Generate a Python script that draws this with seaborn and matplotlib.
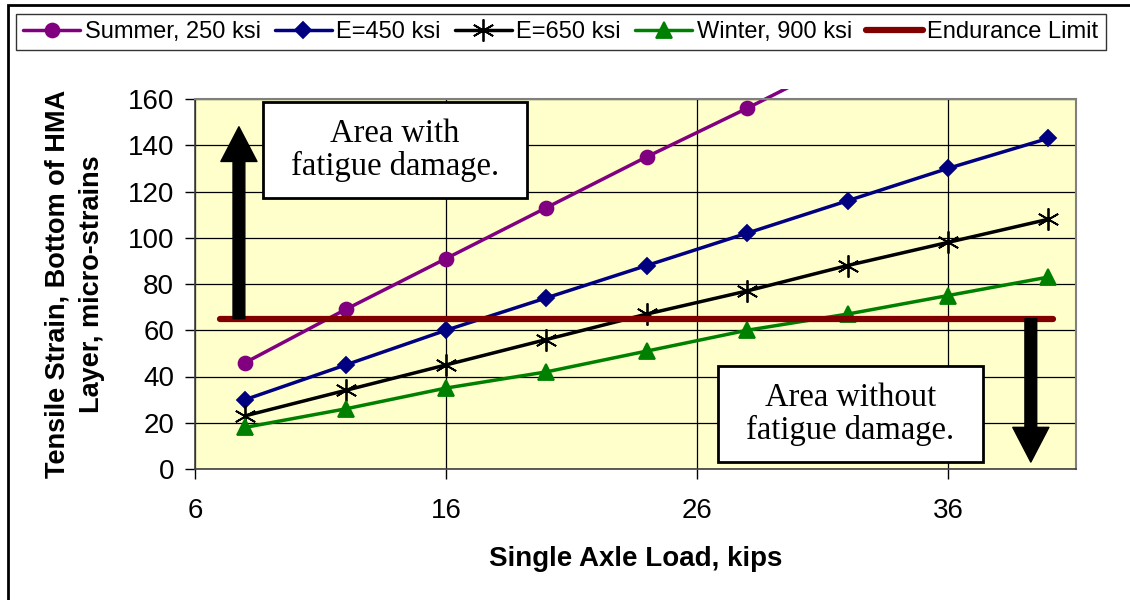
import numpy as np
import pandas as pd
import matplotlib
matplotlib.use("Agg")
import matplotlib.pyplot as plt
import seaborn as sns
from matplotlib.patches import Rectangle

# data
axle_load = [8, 12, 16, 20, 24, 28, 32, 36, 40]
summer_250 = [46, 69, 91, 113, 135, 156, 178, 200, 221]
e_450 = [30, 45, 60, 74, 88, 102, 116, 130, 143]
e_650 = [23, 34, 45, 56, 67, 77, 88, 98, 108]
winter_900 = [18, 26, 35, 42, 51, 60, 67, 75, 83]
endurance_x = [7, 40.2]
endurance_y = [65, 65]

x_ticks = [6, 16, 26, 36]
y_ticks = [0, 20, 40, 60, 80, 100, 120, 140, 160]

sns.set_theme(style="white")
plt.rcParams['font.family'] = ['Liberation Sans', 'DejaVu Sans']
plt.rcParams['text.color'] = 'black'
plt.rcParams['axes.labelcolor'] = 'black'
plt.rcParams['xtick.color'] = 'black'
plt.rcParams['ytick.color'] = 'black'

fig = plt.figure(figsize=(11.3, 6), dpi=100)
ax = fig.add_axes([195 / 1130, 1 - 469 / 600, (1076 - 195) / 1130, (469 - 99) / 600])
ax.set_facecolor('#FFFFCC')

series = [
    ("Summer, 250 ksi", summer_250, '#800080', 'o', 10),
    ("E=450 ksi", e_450, '#000080', 'D', 8.5),
    ("E=650 ksi", e_650, 'black', (6, 2, 0), 16),
    ("Winter, 900 ksi", winter_900, '#008000', '^', 11),
]
for name, vals, col, mk, ms in series:
    df = pd.DataFrame({'load': axle_load, 'strain': vals})
    sns.lineplot(data=df, x='load', y='strain', ax=ax, color=col, marker=mk,
                 markersize=ms, markeredgecolor=col, markeredgewidth=1.3,
                 linewidth=2.5, label=name, legend=False)

# summer line runs a little above the plot top in the original
clip = Rectangle((6, -5), 36, 169.5, transform=ax.transData, fill=False, visible=False)
ax.add_patch(clip)
ax.lines[0].set_clip_path(clip)

sns.lineplot(x=endurance_x, y=endurance_y, ax=ax, color='#800000', linewidth=4.5,
             label="Endurance Limit", legend=False, solid_capstyle='round')

ax.set_xlim(6, 41.1)
ax.set_ylim(0, 160)
ax.set_xticks(x_ticks)
ax.set_yticks(y_ticks)
ax.grid(True, color='black', linewidth=0.9)
ax.tick_params(axis='both', direction='out', length=7, width=1, color='black',
               labelsize=20, labelcolor='black', left=True, bottom=True)
ax.tick_params(axis='x', pad=14)
ax.tick_params(axis='y', pad=8)
for s in ['top', 'right']:
    ax.spines[s].set_color('#808080')
    ax.spines[s].set_linewidth(1.5)
for s in ['left', 'bottom']:
    ax.spines[s].set_color('#404040')
    ax.spines[s].set_linewidth(1.2)

ax.set_xlabel("Single Axle Load, kips", fontsize=20, fontweight='bold', labelpad=16,
              color='black')
ax.set_ylabel("Tensile Strain, Bottom of HMA\nLayer, micro-strains", fontsize=19.5,
              fontweight='bold', labelpad=16, linespacing=1.45, color='black')

# arrows
ax.annotate('', xy=(7.75, 148), xytext=(7.75, 65),
            arrowprops=dict(width=8.5, headwidth=26, headlength=25, color='black', shrink=0))
ax.annotate('', xy=(39.3, 3), xytext=(39.3, 65),
            arrowprops=dict(width=8.5, headwidth=26, headlength=25, color='black', shrink=0))

# text boxes
ax.add_patch(Rectangle((8.71, 117.2), 19.23 - 8.71, 158.7 - 117.2, facecolor='white',
                       edgecolor='black', linewidth=2, zorder=5))
ax.text((8.71 + 19.23) / 2, (117.2 + 158.7) / 2, "Area with\nfatigue damage.",
        family=['Liberation Serif'], fontsize=23.5, ha='center', va='center',
        linespacing=1.1, zorder=6, color='black')
ax.add_patch(Rectangle((26.84, 3.0), 37.39 - 26.84, 44.5 - 3.0, facecolor='white',
                       edgecolor='black', linewidth=2, zorder=5))
ax.text((26.84 + 37.39) / 2, (3.0 + 44.5) / 2, "Area without\nfatigue damage.",
        family=['Liberation Serif'], fontsize=23.5, ha='center', va='center',
        linespacing=1.1, zorder=6, color='black')

h, l = ax.get_legend_handles_labels()
leg = fig.legend(h, l, loc='center', bbox_to_anchor=(561 / 1130, 1 - 32 / 600), ncol=5,
                 fontsize=17, frameon=True, fancybox=False, edgecolor='black',
                 handlelength=2.4, handletextpad=0.2, columnspacing=0.6,
                 borderpad=0.3, labelcolor='black')
leg.get_frame().set_linewidth(1.0)

# outer chart border (left and top visible)
fig.add_artist(Rectangle((8 / 1130, -0.05), 1.1, 1 - 5 / 600 + 0.05, transform=fig.transFigure,
                         fill=False, edgecolor='black', linewidth=2))

fig.savefig("out.png", dpi=100)
